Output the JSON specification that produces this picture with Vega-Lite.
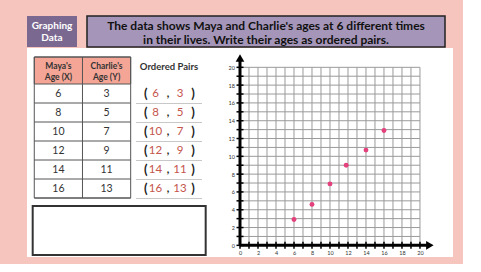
{
  "$schema": "https://vega.github.io/schema/vega-lite/v6.json",
  "background": "#f6c6be",
  "padding": {"left": 27, "top": 15, "right": 10, "bottom": 7},
  "autosize": {"type": "pad"},
  "config": {
    "view": {"stroke": null},
    "font": "Lato",
    "axis": {"grid": false, "ticks": false, "domain": false, "labelFontSize": 5.5, "labelColor": "#333333", "labelPadding": 5.5, "labelFlush": false, "labelOverlap": false, "labelBound": false, "labelSeparation": 0}
  },
  "datasets": {
    "table": [
      {"row": 1, "maya": 6, "charlie": 3},
      {"row": 2, "maya": 8, "charlie": 5},
      {"row": 3, "maya": 10, "charlie": 7},
      {"row": 4, "maya": 12, "charlie": 9},
      {"row": 5, "maya": 14, "charlie": 11},
      {"row": 6, "maya": 16, "charlie": 13}
    ],
    "grid": [
      {"v": 0}, {"v": 1}, {"v": 2}, {"v": 3}, {"v": 4}, {"v": 5}, {"v": 6},
      {"v": 7}, {"v": 8}, {"v": 9}, {"v": 10}, {"v": 11}, {"v": 12}, {"v": 13},
      {"v": 14}, {"v": 15}, {"v": 16}, {"v": 17}, {"v": 18}, {"v": 19}, {"v": 20}
    ],
    "points": [
      {"x": 6, "y": 2.9},
      {"x": 8, "y": 4.6},
      {"x": 10, "y": 6.9},
      {"x": 11.8, "y": 9},
      {"x": 14, "y": 10.7},
      {"x": 16, "y": 12.9}
    ],
    "one": [{"k": 1}]
  },
  "spacing": 0,
  "vconcat": [
    {
      "spacing": 10,
      "bounds": "flush",
      "hconcat": [
        {
          "width": 50,
          "height": 31,
          "view": {"fill": "#7b6891", "stroke": null},
          "data": {"values": [{"t": "Graphing\nData"}]},
          "mark": {"type": "text", "color": "white", "fontWeight": "bold", "fontSize": 10, "lineHeight": 12, "lineBreak": "\n", "align": "center", "baseline": "middle", "dy": -6},
          "encoding": {"text": {"field": "t", "type": "nominal"}}
        },
        {
          "width": 358,
          "height": 31,
          "view": {"fill": "#a596b9", "stroke": "#222222", "strokeWidth": 1.5},
          "data": {"values": [{"t": "The data shows Maya and Charlie's ages at 6 different times\nin their lives. Write their ages as ordered pairs."}]},
          "mark": {"type": "text", "color": "#111111", "fontWeight": "bold", "fontSize": 12, "lineHeight": 13.5, "lineBreak": "\n", "align": "center", "baseline": "middle", "dy": -5.5},
          "encoding": {"text": {"field": "t", "type": "nominal"}}
        }
      ]
    },
    {
      "spacing": 0,
      "bounds": "flush",
      "hconcat": [
        {
          "width": 213,
          "height": 209,
          "view": {"fill": "white", "stroke": null},
          "layer": [
            {
              "data": {"name": "one"},
              "mark": {"type": "rect", "fill": "#f4a596", "stroke": "#555555", "strokeWidth": 1},
              "encoding": {
                "x": {"datum": 0, "type": "quantitative", "scale": {"domain": [-0.151, 4.268], "nice": false, "zero": false}, "axis": null},
                "x2": {"datum": 2},
                "y": {"datum": -0.921, "type": "quantitative", "scale": {"domain": [-1.395, 9.605], "reverse": true, "nice": false, "zero": false}, "axis": null},
                "y2": {"datum": 0.5}
              }
            },
            {
              "data": {"name": "one"},
              "mark": {"type": "rect", "fill": "transparent", "stroke": "#555555", "strokeWidth": 1},
              "encoding": {
                "x": {"datum": 0, "type": "quantitative", "axis": null},
                "x2": {"datum": 2},
                "y": {"datum": -0.921, "type": "quantitative", "axis": null},
                "y2": {"datum": 6.5}
              }
            },
            {
              "data": {"name": "table"},
              "mark": {"type": "rule", "stroke": "#555555", "strokeWidth": 1, "yOffset": 9.5},
              "encoding": {
                "x": {"datum": 0, "type": "quantitative", "axis": null},
                "x2": {"datum": 2},
                "y": {"field": "row", "type": "quantitative", "axis": null}
              }
            },
            {
              "data": {"name": "one"},
              "mark": {"type": "rule", "stroke": "#555555", "strokeWidth": 1},
              "encoding": {
                "x": {"datum": 1, "type": "quantitative", "axis": null},
                "y": {"datum": -0.921, "type": "quantitative", "axis": null},
                "y2": {"datum": 6.5}
              }
            },
            {
              "data": {"name": "table"},
              "mark": {"type": "text", "fontSize": 10.5, "color": "#333333", "baseline": "middle"},
              "encoding": {
                "x": {"datum": 0.5, "type": "quantitative", "axis": null},
                "y": {"field": "row", "type": "quantitative", "axis": null},
                "text": {"field": "maya", "type": "nominal"}
              }
            },
            {
              "data": {"name": "table"},
              "mark": {"type": "text", "fontSize": 10.5, "color": "#333333", "baseline": "middle"},
              "encoding": {
                "x": {"datum": 1.5, "type": "quantitative", "axis": null},
                "y": {"field": "row", "type": "quantitative", "axis": null},
                "text": {"field": "charlie", "type": "nominal"}
              }
            },
            {
              "data": {"name": "one"},
              "mark": {"type": "text", "fontSize": 8.5, "fontWeight": "bold", "color": "#333333", "baseline": "middle", "lineHeight": 11, "dy": -5},
              "encoding": {
                "x": {"datum": 0.5, "type": "quantitative", "axis": null},
                "y": {"datum": -0.21, "type": "quantitative", "axis": null},
                "text": {"value": ["Maya's", "Age (X)"]}
              }
            },
            {
              "data": {"name": "one"},
              "mark": {"type": "text", "fontSize": 8.5, "fontWeight": "bold", "color": "#333333", "baseline": "middle", "lineHeight": 11, "dy": -5},
              "encoding": {
                "x": {"datum": 1.5, "type": "quantitative", "axis": null},
                "y": {"datum": -0.21, "type": "quantitative", "axis": null},
                "text": {"value": ["Charlie's", "Age (Y)"]}
              }
            },
            {
              "data": {"name": "one"},
              "mark": {"type": "text", "fontSize": 9.5, "fontWeight": "bold", "color": "#333333", "baseline": "middle"},
              "encoding": {
                "x": {"datum": 2.795, "type": "quantitative", "axis": null},
                "y": {"datum": -0.395, "type": "quantitative", "axis": null},
                "text": {"value": "Ordered Pairs"}
              }
            },
            {
              "data": {"name": "table"},
              "mark": {"type": "text", "fontSize": 13, "fontWeight": "bold", "color": "#222222", "baseline": "middle"},
              "encoding": {
                "x": {"datum": 2.311, "type": "quantitative", "axis": null},
                "y": {"field": "row", "type": "quantitative", "axis": null},
                "text": {"value": "("}
              }
            },
            {
              "data": {"name": "table"},
              "mark": {"type": "text", "fontSize": 11.5, "color": "#c4554c", "baseline": "middle"},
              "encoding": {
                "x": {"datum": 2.515, "type": "quantitative", "axis": null},
                "y": {"field": "row", "type": "quantitative", "axis": null},
                "text": {"field": "maya", "type": "nominal"}
              }
            },
            {
              "data": {"name": "table"},
              "mark": {"type": "text", "fontSize": 11, "fontWeight": "bold", "color": "#222222", "baseline": "middle"},
              "encoding": {
                "x": {"datum": 2.774, "type": "quantitative", "axis": null},
                "y": {"field": "row", "type": "quantitative", "axis": null},
                "text": {"value": ","}
              }
            },
            {
              "data": {"name": "table"},
              "mark": {"type": "text", "fontSize": 11.5, "color": "#c4554c", "baseline": "middle"},
              "encoding": {
                "x": {"datum": 3.023, "type": "quantitative", "axis": null},
                "y": {"field": "row", "type": "quantitative", "axis": null},
                "text": {"field": "charlie", "type": "nominal"}
              }
            },
            {
              "data": {"name": "table"},
              "mark": {"type": "text", "fontSize": 13, "fontWeight": "bold", "color": "#222222", "baseline": "middle"},
              "encoding": {
                "x": {"datum": 3.293, "type": "quantitative", "axis": null},
                "y": {"field": "row", "type": "quantitative", "axis": null},
                "text": {"value": ")"}
              }
            },
            {
              "data": {"name": "table"},
              "mark": {"type": "rule", "stroke": "#c8c8c8", "strokeWidth": 1, "yOffset": 10},
              "encoding": {
                "x": {"datum": 2.11, "type": "quantitative", "axis": null},
                "x2": {"datum": 3.479},
                "y": {"field": "row", "type": "quantitative", "axis": null}
              }
            },
            {
              "data": {"name": "one"},
              "mark": {"type": "rect", "fill": "white", "stroke": "#333333", "strokeWidth": 2},
              "encoding": {
                "x": {"datum": -0.033, "type": "quantitative", "axis": null},
                "x2": {"datum": 3.556},
                "y": {"datum": 6.921, "type": "quantitative", "axis": null},
                "y2": {"datum": 9.5}
              }
            }
          ]
        },
        {
          "width": 213,
          "height": 209,
          "view": {"fill": "white", "stroke": null},
          "layer": [
            {
              "data": {"name": "grid"},
              "mark": {"type": "rule", "stroke": "#9a9a9a", "strokeWidth": 1},
              "encoding": {
                "x": {"field": "v", "type": "quantitative", "title": null, "scale": {"domain": [0, 23.67], "nice": false, "zero": false},
                      "axis": {"values": [0, 2, 4, 6, 8, 10, 12, 14, 16, 18, 20], "offset": -11.7, "labelOverlap": false}},
                "y": {"datum": 0, "type": "quantitative", "title": null, "scale": {"domain": [-1.31, 22.17], "nice": false, "zero": false},
                      "axis": {"values": [0, 2, 4, 6, 8, 10, 12, 14, 16, 18, 20], "labelOverlap": false}},
                "y2": {"datum": 20}
              }
            },
            {
              "data": {"name": "grid"},
              "mark": {"type": "rule", "stroke": "#9a9a9a", "strokeWidth": 1},
              "encoding": {
                "y": {"field": "v", "type": "quantitative", "title": null, "axis": {"values": [0, 2, 4, 6, 8, 10, 12, 14, 16, 18, 20], "labelOverlap": false}},
                "x": {"datum": 0, "type": "quantitative", "title": null, "axis": {"values": [0, 2, 4, 6, 8, 10, 12, 14, 16, 18, 20], "offset": -11.7, "labelOverlap": false}},
                "x2": {"datum": 20}
              }
            },
            {
              "data": {"name": "one"},
              "mark": {"type": "rule", "stroke": "black", "strokeWidth": 3},
              "encoding": {
                "x": {"datum": 0, "type": "quantitative", "title": null, "axis": {"values": [0, 2, 4, 6, 8, 10, 12, 14, 16, 18, 20], "offset": -11.7, "labelOverlap": false}},
                "y": {"datum": 0, "type": "quantitative", "title": null, "axis": {"values": [0, 2, 4, 6, 8, 10, 12, 14, 16, 18, 20], "labelOverlap": false}},
                "y2": {"datum": 21}
              }
            },
            {
              "data": {"name": "one"},
              "mark": {"type": "rule", "stroke": "black", "strokeWidth": 3},
              "encoding": {
                "x": {"datum": 0, "type": "quantitative", "title": null, "axis": {"values": [0, 2, 4, 6, 8, 10, 12, 14, 16, 18, 20], "offset": -11.7, "labelOverlap": false}},
                "x2": {"datum": 21},
                "y": {"datum": 0, "type": "quantitative", "title": null, "axis": {"values": [0, 2, 4, 6, 8, 10, 12, 14, 16, 18, 20], "labelOverlap": false}}
              }
            },
            {
              "data": {"name": "one"},
              "mark": {"type": "point", "shape": "triangle-up", "filled": true, "color": "black", "opacity": 1, "size": 75},
              "encoding": {
                "x": {"datum": 0, "type": "quantitative", "title": null, "axis": {"values": [0, 2, 4, 6, 8, 10, 12, 14, 16, 18, 20], "offset": -11.7, "labelOverlap": false}},
                "y": {"datum": 21.05, "type": "quantitative", "title": null, "axis": {"values": [0, 2, 4, 6, 8, 10, 12, 14, 16, 18, 20], "labelOverlap": false}}
              }
            },
            {
              "data": {"name": "one"},
              "mark": {"type": "point", "shape": "triangle-right", "filled": true, "color": "black", "opacity": 1, "size": 75},
              "encoding": {
                "x": {"datum": 21.1, "type": "quantitative", "title": null, "axis": {"values": [0, 2, 4, 6, 8, 10, 12, 14, 16, 18, 20], "offset": -11.7, "labelOverlap": false}},
                "y": {"datum": 0, "type": "quantitative", "title": null, "axis": {"values": [0, 2, 4, 6, 8, 10, 12, 14, 16, 18, 20], "labelOverlap": false}}
              }
            },
            {
              "data": {"name": "grid"},
              "mark": {"type": "tick", "orient": "vertical", "size": 7, "thickness": 1.5, "color": "black", "opacity": 1},
              "encoding": {
                "x": {"field": "v", "type": "quantitative", "title": null, "axis": {"values": [0, 2, 4, 6, 8, 10, 12, 14, 16, 18, 20], "offset": -11.7, "labelOverlap": false}},
                "y": {"datum": 0, "type": "quantitative", "title": null, "axis": {"values": [0, 2, 4, 6, 8, 10, 12, 14, 16, 18, 20], "labelOverlap": false}}
              }
            },
            {
              "data": {"name": "grid"},
              "mark": {"type": "tick", "orient": "horizontal", "size": 7, "thickness": 1.5, "color": "black", "opacity": 1},
              "encoding": {
                "y": {"field": "v", "type": "quantitative", "title": null, "axis": {"values": [0, 2, 4, 6, 8, 10, 12, 14, 16, 18, 20], "labelOverlap": false}},
                "x": {"datum": 0, "type": "quantitative", "title": null, "axis": {"values": [0, 2, 4, 6, 8, 10, 12, 14, 16, 18, 20], "offset": -11.7, "labelOverlap": false}}
              }
            },
            {
              "data": {"name": "points"},
              "mark": {"type": "circle", "color": "#e4407c", "opacity": 1, "size": 24},
              "encoding": {
                "x": {"field": "x", "type": "quantitative", "title": null, "axis": {"values": [0, 2, 4, 6, 8, 10, 12, 14, 16, 18, 20], "offset": -11.7, "labelOverlap": false}},
                "y": {"field": "y", "type": "quantitative", "title": null, "axis": {"values": [0, 2, 4, 6, 8, 10, 12, 14, 16, 18, 20], "labelOverlap": false}}
              }
            }
          ]
        }
      ]
    }
  ]
}
